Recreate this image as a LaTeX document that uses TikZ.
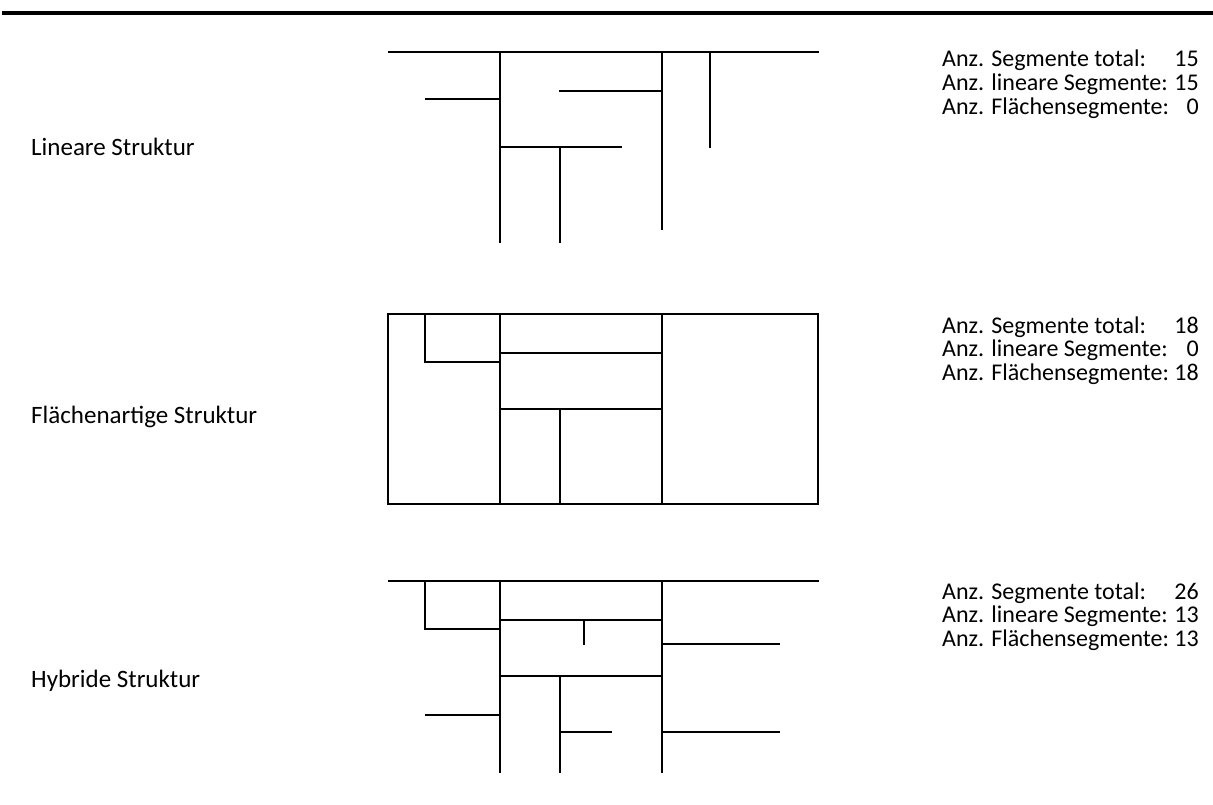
\documentclass[tikz,border=0pt]{standalone}
\usepackage{fontspec}
\setmainfont{Carlito}
\begin{document}
\begin{tikzpicture}[x=1pt,y=-1pt,
  seg/.style={line width=2pt,line cap=rect,black},
  rule/.style={line width=4pt,black},
  label/.style={anchor=base west,inner sep=0pt,font=\fontsize{25}{25}\selectfont},
  stats/.style={anchor=base east,inner sep=0pt,font=\fontsize{24}{23.2}\selectfont}]
\useasboundingbox (0,0) rectangle (1213,805);
% top rule
\coordinate (r1) at (2,13);
\coordinate (r2) at (1213,13);
\draw[rule] (r1) -- (r2);

% ---------- Lineare Struktur ----------
\node[label] (l1) at (31,156) {Lineare Struktur};
\draw[seg] (389,52) -- (818,52);
\draw[seg] (500,52) -- (500,242);
\draw[seg] (426,99) -- (500,99);
\draw[seg] (662,52) -- (662,229);
\draw[seg] (560,91) -- (662,91);
\draw[seg] (710,52) -- (710,147);
\draw[seg] (500,147) -- (621,147);
\draw[seg] (560,147) -- (560,242);
\node[stats] (s1) at (1199,67) {\begin{tabular}[t]{@{}l@{\ }r@{}}
Anz. Segmente total: & 15\\
Anz. lineare Segmente: & 15\\
Anz. Flächensegmente: & 0
\end{tabular}};

% ---------- Flächenartige Struktur ----------
\node[label] (l2) at (31,423) {Flächenartige Struktur};
\draw[seg] (388,314) rectangle (818,504);
\draw[seg] (425,314) -- (425,362) -- (500,362);
\draw[seg] (500,314) -- (500,504);
\draw[seg] (662,314) -- (662,504);
\draw[seg] (500,353) -- (662,353);
\draw[seg] (500,409) -- (662,409);
\draw[seg] (560,409) -- (560,504);
\node[stats] (s2) at (1199,333) {\begin{tabular}[t]{@{}l@{\ }r@{}}
Anz. Segmente total: & 18\\
Anz. lineare Segmente: & 0\\
Anz. Flächensegmente: & 18
\end{tabular}};

% ---------- Hybride Struktur ----------
\node[label] (l3) at (31,687) {Hybride Struktur};
\draw[seg] (389,581) -- (818,581);
\draw[seg] (425,581) -- (425,629) -- (500,629);
\draw[seg] (500,581) -- (500,772);
\draw[seg] (662,581) -- (662,772);
\draw[seg] (500,620) -- (662,620);
\draw[seg] (584,620) -- (584,644);
\draw[seg] (662,644) -- (779,644);
\draw[seg] (500,676) -- (662,676);
\draw[seg] (560,676) -- (560,772);
\draw[seg] (426,715) -- (500,715);
\draw[seg] (560,732) -- (611,732);
\draw[seg] (662,732) -- (779,732);
\node[stats] (s3) at (1199,599) {\begin{tabular}[t]{@{}l@{\ }r@{}}
Anz. Segmente total: & 26\\
Anz. lineare Segmente: & 13\\
Anz. Flächensegmente: & 13
\end{tabular}};
\end{tikzpicture}
\end{document}
